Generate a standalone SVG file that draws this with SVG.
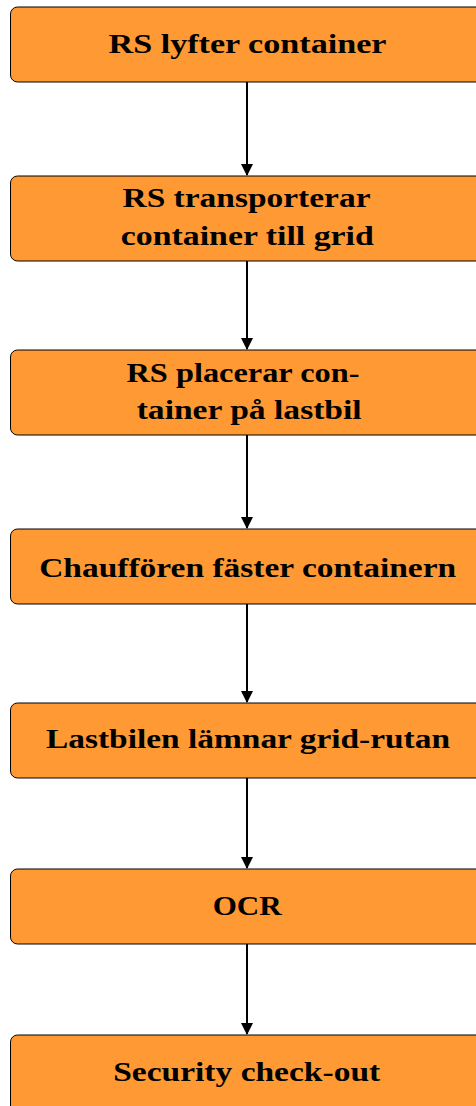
<svg xmlns="http://www.w3.org/2000/svg" width="476" height="1106" viewBox="0 0 476 1106">
<defs>
<style>
.box{fill:#FF9933;stroke:#000;stroke-width:1}
.t{font-family:"Liberation Serif","DejaVu Serif",serif;font-weight:bold;font-size:27px;fill:#000;text-anchor:middle}
.c{stroke:#000;stroke-width:2;fill:none}
</style>
<marker id="ah" markerWidth="12" markerHeight="18" refX="11" refY="6" orient="auto" markerUnits="userSpaceOnUse" viewBox="0 0 12 12">
<path d="M0,0 L12,6 L0,12 Z" fill="#000"/>
</marker>
</defs>
<g id="n1"><rect class="box" x="10.5" y="7" width="474" height="75" rx="7"/><text class="t" x="247.5" y="53" textLength="278" lengthAdjust="spacingAndGlyphs">RS lyfter container</text></g>
<g id="n2"><rect class="box" x="10.5" y="176" width="474" height="85" rx="7"/><text class="t" x="246.5" y="207" textLength="248" lengthAdjust="spacingAndGlyphs">RS transporterar</text><text class="t" x="247.3" y="245" textLength="253" lengthAdjust="spacingAndGlyphs">container till grid</text></g>
<g id="n3"><rect class="box" x="10.5" y="350" width="474" height="85" rx="7"/><text class="t" x="243" y="381.5" textLength="233" lengthAdjust="spacingAndGlyphs">RS placerar con-</text><text class="t" x="249.2" y="418.5" textLength="225" lengthAdjust="spacingAndGlyphs">tainer på lastbil</text></g>
<g id="n4"><rect class="box" x="10.5" y="529" width="474" height="75" rx="7"/><text class="t" x="247.7" y="576.5" textLength="417" lengthAdjust="spacingAndGlyphs">Chauffören fäster containern</text></g>
<g id="n5"><rect class="box" x="10.5" y="703" width="474" height="75" rx="7"/><text class="t" x="248" y="748" textLength="404" lengthAdjust="spacingAndGlyphs">Lastbilen lämnar grid-rutan</text></g>
<g id="n6"><rect class="box" x="10.5" y="869" width="474" height="75" rx="7"/><text class="t" x="247.2" y="915" textLength="69" lengthAdjust="spacingAndGlyphs">OCR</text></g>
<g id="n7"><rect class="box" x="10.5" y="1035" width="474" height="85" rx="7"/><text class="t" x="246.7" y="1081" textLength="267" lengthAdjust="spacingAndGlyphs">Security check-out</text></g>
<g id="connectors">
<line class="c" x1="247" y1="82" x2="247" y2="175" marker-end="url(#ah)"/>
<line class="c" x1="247" y1="261" x2="247" y2="349" marker-end="url(#ah)"/>
<line class="c" x1="247" y1="435" x2="247" y2="528" marker-end="url(#ah)"/>
<line class="c" x1="247" y1="604" x2="247" y2="702" marker-end="url(#ah)"/>
<line class="c" x1="247" y1="778" x2="247" y2="868" marker-end="url(#ah)"/>
<line class="c" x1="247" y1="944" x2="247" y2="1034" marker-end="url(#ah)"/>
</g>
</svg>
